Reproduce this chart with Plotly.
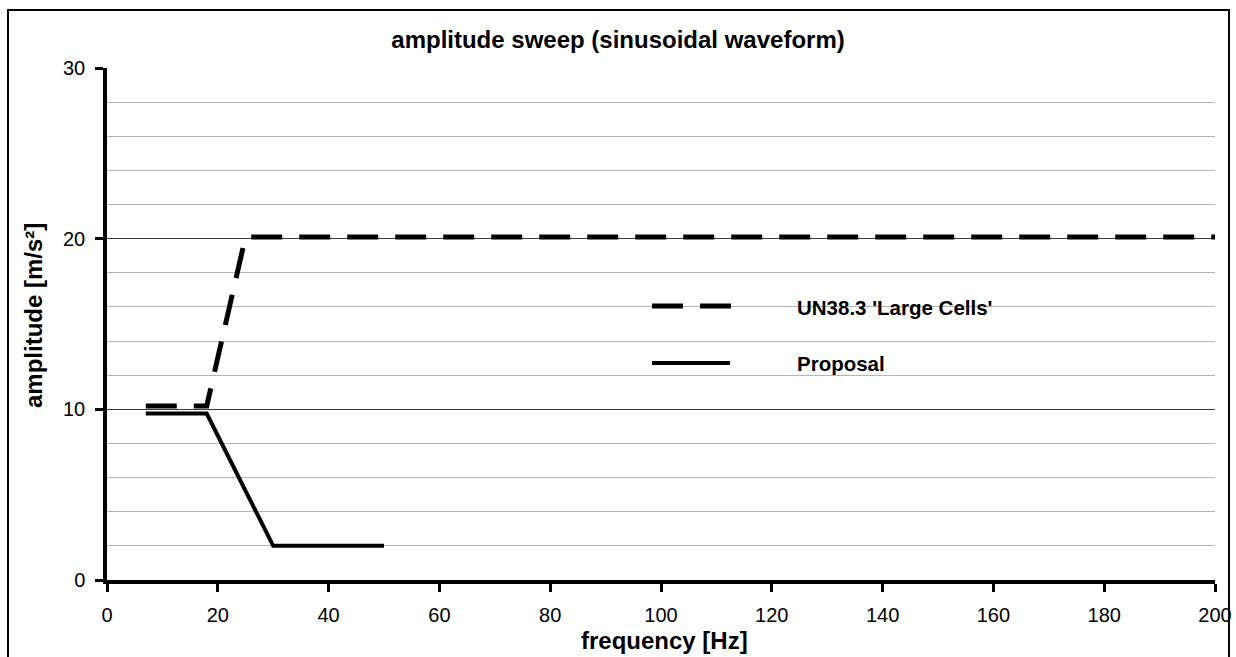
import plotly.graph_objects as go

# Data
un_freq = [7, 18, 25, 200]
un_amp = [10.2, 10.2, 20.1, 20.1]
prop_freq = [7, 18, 30, 50]
prop_amp = [9.75, 9.75, 2.0, 2.0]
x_ticks = [0, 20, 40, 60, 80, 100, 120, 140, 160, 180, 200]
y_ticks = [0, 10, 20, 30]
names = ["UN38.3 'Large Cells'", "Proposal"]

# page geometry (body margin removed by post_script below)
W, H = 1236, 657
L, R, T, B = 107, 1215, 68, 580          # plot area in page pixels
ML, MR, MT, MB = L, W - R, T, H - B

def px(x):
    return (x - L) / (R - L)

def py(y):
    return (B - y) / (B - T)

FONT = "Liberation Sans, Arial, sans-serif"
DASH = "31px,17px"

fig = go.Figure()
fig.add_trace(go.Scatter(x=un_freq, y=un_amp, mode="lines", name=names[0],
                         line=dict(color="black", width=5, dash=DASH),
                         showlegend=False))
fig.add_trace(go.Scatter(x=prop_freq, y=prop_amp, mode="lines", name=names[1],
                         line=dict(color="black", width=4),
                         showlegend=False))

shapes = [
    # outer border
    dict(type="rect", xref="paper", yref="paper", x0=px(8), x1=px(1229), y0=py(720), y1=py(10),
         line=dict(color="black", width=2), fillcolor="rgba(0,0,0,0)", layer="below"),
    # legend background
    dict(type="rect", xref="paper", yref="paper", x0=px(553), x1=px(1098), y0=py(392), y1=py(280),
         line=dict(width=0), fillcolor="white", layer="between"),
    # legend symbols
    dict(type="line", xref="paper", yref="paper", x0=px(652), x1=px(735), y0=py(306), y1=py(306),
         line=dict(color="black", width=5, dash=DASH), layer="above"),
    dict(type="line", xref="paper", yref="paper", x0=px(652), x1=px(730), y0=py(363), y1=py(363),
         line=dict(color="black", width=4), layer="above"),
]
annotations = [
    dict(text=names[0], xref="paper", yref="paper", x=px(795), y=py(307), xanchor="left", yanchor="middle",
         showarrow=False, font=dict(family=FONT, size=20.5, color="black", weight="bold")),
    dict(text=names[1], xref="paper", yref="paper", x=px(795), y=py(363), xanchor="left", yanchor="middle",
         showarrow=False, font=dict(family=FONT, size=20.5, color="black", weight="bold")),
    # axis titles
    dict(text="<b>frequency [Hz]</b>", xref="paper", yref="paper", x=px(664), y=py(640),
         xanchor="center", yanchor="middle", showarrow=False,
         font=dict(family=FONT, size=24, color="black")),
    dict(text="<b>amplitude [m/s²]</b>", xref="paper", yref="paper", x=px(33), y=py(316),
         xanchor="center", yanchor="middle", textangle=-90, showarrow=False,
         font=dict(family=FONT, size=24, color="black")),
]

fig.update_layout(
    width=W, height=H,
    margin=dict(l=ML, r=MR, t=MT, b=MB, autoexpand=False),
    paper_bgcolor="white", plot_bgcolor="white",
    font=dict(family=FONT, size=20, color="black"),
    title=dict(text="<b>amplitude sweep (sinusoidal waveform)</b>", x=px(618), xanchor="center",
               xref="paper", y=1 - 40 / H, yanchor="middle",
               font=dict(size=24, family=FONT, color="black")),
    shapes=shapes,
    annotations=annotations,
    showlegend=False,
)
fig.update_xaxes(range=[0, 200], tickvals=x_ticks, showgrid=False, zeroline=False,
                 showline=True, linecolor="black", linewidth=3.5,
                 ticks="outside", ticklen=8, tickwidth=3, tickcolor="black",
                 tickfont=dict(size=20, family=FONT, color="black"),
                 ticklabelstandoff=6, ticklabeloverflow="allow", automargin=False)
fig.update_yaxes(range=[0, 30], tickvals=y_ticks, showgrid=True, gridcolor="#3a3a3a", gridwidth=1,
                 zeroline=False, showline=True, linecolor="black", linewidth=3.5,
                 ticks="outside", ticklen=8, tickwidth=3, tickcolor="black",
                 tickfont=dict(size=20, family=FONT, color="black"),
                 ticklabelstandoff=6, ticklabeloverflow="allow", automargin=False,
                 minor=dict(dtick=2, showgrid=True, gridcolor="#b4b4b4", gridwidth=1, ticks=""))

fig.write_html("out.html", config={"displayModeBar": False},
               post_script="document.body.style.margin='0';document.body.style.overflow='hidden';")
